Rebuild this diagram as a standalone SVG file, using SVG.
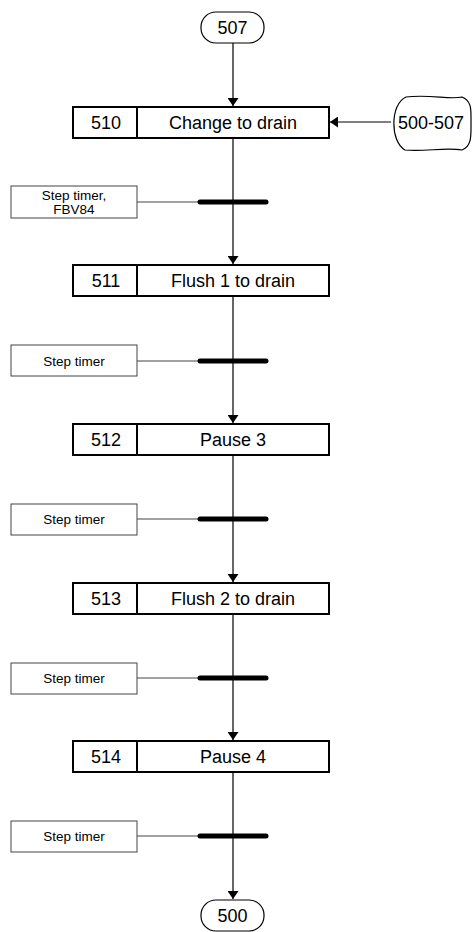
<svg xmlns="http://www.w3.org/2000/svg" width="473" height="932" viewBox="0 0 473 932">
<defs>
<marker id="arr" markerUnits="userSpaceOnUse" viewBox="0 0 8 11" refX="8" refY="5.5" markerWidth="8" markerHeight="11" orient="auto">
<path d="M0,0 L8,5.5 L0,11 z" fill="#000"/>
</marker>
<style>
text{font-family:"Liberation Sans",Arial,sans-serif;fill:#000;text-anchor:middle}
.big{font-size:18px}
.small{font-size:13.5px}
.step{fill:#fff;stroke:#000;stroke-width:2}
.div{stroke:#000;stroke-width:2}
.term{fill:#fff;stroke:#000;stroke-width:1.2}
.tbox{fill:#fff;stroke:#444;stroke-width:1}
.flow{stroke:#000;stroke-width:1.2;fill:none}
.tline{stroke:#444;stroke-width:1.2;fill:none}
.bar{stroke:#000;stroke-width:5;stroke-linecap:round}
</style>
</defs>
<g id="connectors">
<line class="flow" x1="233" y1="43" x2="233" y2="106" marker-end="url(#arr)"/>
<line class="flow" x1="233" y1="139" x2="233" y2="264" marker-end="url(#arr)"/>
<line class="flow" x1="233" y1="296" x2="233" y2="423" marker-end="url(#arr)"/>
<line class="flow" x1="233" y1="455" x2="233" y2="582" marker-end="url(#arr)"/>
<line class="flow" x1="233" y1="614" x2="233" y2="740" marker-end="url(#arr)"/>
<line class="flow" x1="233" y1="773" x2="233" y2="899" marker-end="url(#arr)"/>
<line class="flow" x1="391" y1="122" x2="330" y2="122" marker-end="url(#arr)"/>
<line class="tline" x1="137" y1="202" x2="200" y2="202"/>
<line class="tline" x1="137" y1="361" x2="200" y2="361"/>
<line class="tline" x1="137" y1="519" x2="200" y2="519"/>
<line class="tline" x1="137" y1="678" x2="200" y2="678"/>
<line class="tline" x1="137" y1="836" x2="200" y2="836"/>
</g>
<g id="t507"><rect class="term" x="201" y="12" width="63" height="31" rx="15"/><text class="big" x="232.5" y="34">507</text></g>
<g id="t500-507"><path class="term" d="M406,97 C430,94 450,100 462,97 C472,101 471,110 471,122 C471,136 472,146 462,150 C445,147 425,152 405,150 C390,142 390,104 406,97 Z"/><text class="big" x="431" y="128.5">500-507</text></g>
<g id="s510"><rect class="step" x="73" y="107" width="256" height="31"/><line class="div" x1="137" y1="107" x2="137" y2="138"/><text class="big" x="106" y="129">510</text><text class="big" x="233" y="129">Change to drain</text></g>
<g id="tr1"><rect class="tbox" x="11" y="186" width="126" height="32"/><text class="small" x="74" y="200">Step timer,</text><text class="small" x="74" y="214">FBV84</text><line class="bar" x1="200" y1="202" x2="266" y2="202"/></g>
<g id="s511"><rect class="step" x="73" y="265" width="256" height="31"/><line class="div" x1="137" y1="265" x2="137" y2="296"/><text class="big" x="106" y="287">511</text><text class="big" x="233" y="287">Flush 1 to drain</text></g>
<g id="tr2"><rect class="tbox" x="11" y="345" width="126" height="31"/><text class="small" x="74" y="366">Step timer</text><line class="bar" x1="200" y1="361" x2="266" y2="361"/></g>
<g id="s512"><rect class="step" x="73" y="424" width="256" height="31"/><line class="div" x1="137" y1="424" x2="137" y2="455"/><text class="big" x="106" y="446">512</text><text class="big" x="233" y="446">Pause 3</text></g>
<g id="tr3"><rect class="tbox" x="11" y="504" width="126" height="31"/><text class="small" x="74" y="524">Step timer</text><line class="bar" x1="200" y1="519" x2="266" y2="519"/></g>
<g id="s513"><rect class="step" x="73" y="583" width="256" height="31"/><line class="div" x1="137" y1="583" x2="137" y2="614"/><text class="big" x="106" y="605">513</text><text class="big" x="233" y="605">Flush 2 to drain</text></g>
<g id="tr4"><rect class="tbox" x="11" y="663" width="126" height="31"/><text class="small" x="74" y="683">Step timer</text><line class="bar" x1="200" y1="678" x2="266" y2="678"/></g>
<g id="s514"><rect class="step" x="73" y="741" width="256" height="31"/><line class="div" x1="137" y1="741" x2="137" y2="772"/><text class="big" x="106" y="763">514</text><text class="big" x="233" y="763">Pause 4</text></g>
<g id="tr5"><rect class="tbox" x="11" y="821" width="126" height="31"/><text class="small" x="74" y="841">Step timer</text><line class="bar" x1="200" y1="836" x2="266" y2="836"/></g>
<g id="t500"><rect class="term" x="201" y="900" width="63" height="31" rx="15"/><text class="big" x="232.5" y="922">500</text></g>
</svg>
